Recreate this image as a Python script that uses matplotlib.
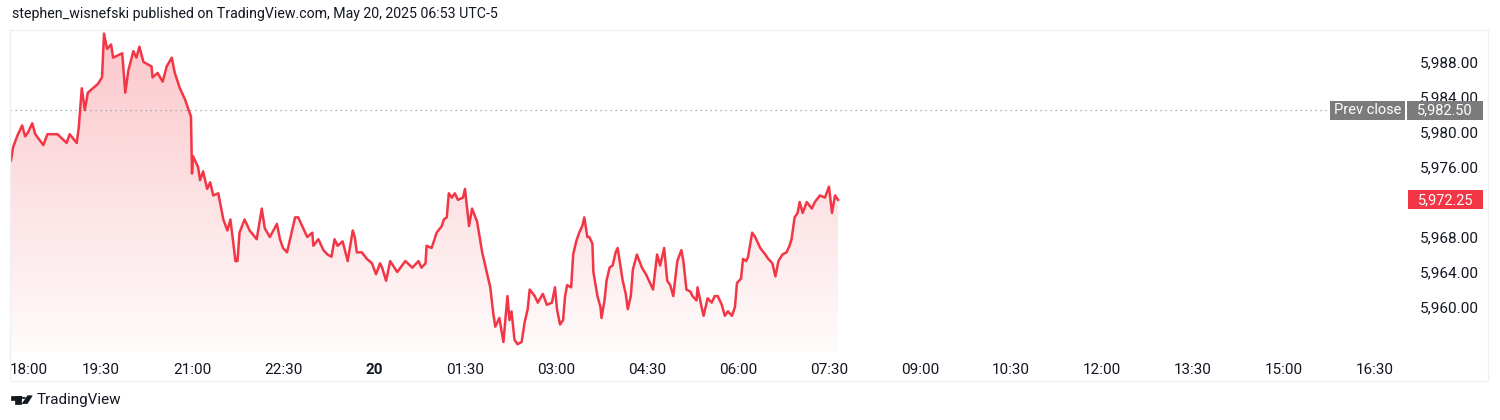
import numpy as np
import matplotlib
matplotlib.use('Agg')
import matplotlib.pyplot as plt
from matplotlib.patches import Rectangle, Polygon, Circle
from matplotlib.transforms import blended_transform_factory

plt.rcParams['font.family'] = ['Roboto', 'DejaVu Sans']

# minutes after 18:00 (May 19) and last price
minutes = [1, 3, 7, 12, 15, 18, 22, 25, 33, 37, 47, 56, 59, 66, 68, 71, 74, 77, 82, 87,
           91, 93, 96, 100, 102, 111, 114, 117, 122, 125, 128, 132, 140, 141, 146, 151, 155, 160, 163, 168,
           173, 176, 179, 180, 181, 186, 188, 191, 195, 198, 201, 206, 211, 215, 218, 223, 225, 227, 232, 237,
           244, 249, 252, 257, 264, 267, 270, 274, 279, 282, 285, 289, 294, 299, 300, 305, 310, 314, 318, 321,
           324, 329, 334, 339, 341, 343, 348, 353, 358, 362, 366, 368, 372, 376, 383, 391, 398, 404, 407, 411,
           412, 417, 422, 427, 429, 432, 434, 437, 440, 443, 448, 450, 454, 457, 462, 467, 470, 475, 478, 480,
           484, 488, 492, 494, 496, 499, 502, 506, 509, 512, 514, 519, 522, 527, 531, 536, 539, 541, 544, 547,
           549, 551, 555, 557, 560, 563, 566, 568, 571, 573, 576, 577, 581, 584, 585, 588, 590, 593, 596, 599,
           601, 603, 606, 609, 611, 614, 616, 620, 625, 629, 633, 636, 640, 643, 647, 650, 653, 656, 660, 664,
           666, 669, 673, 675, 679, 680, 684, 686, 690, 694, 697, 700, 704, 707, 710, 714, 717, 719, 723, 725,
           728, 730, 734, 737, 742, 747, 750, 754, 757, 760, 764, 768, 771, 773, 776, 779, 781, 784, 788, 793,
           796, 801, 806, 810, 813, 816, 819]
prices = [5976.75, 5978.25, 5979.5, 5980.75, 5979.5, 5980, 5981, 5979.75, 5978.5, 5979.75, 5979.75, 5978.75, 5979.75, 5978.75, 5980.5, 5985, 5982.5, 5984.5, 5985, 5985.5,
          5986.25, 5991.25, 5989.5, 5990, 5988.5, 5989, 5984.5, 5987, 5989.25, 5988.5, 5989.75, 5988, 5987.5, 5986.25, 5986.75, 5985.75, 5987.5, 5988.5, 5986.75, 5985,
          5983.75, 5982.75, 5981.75, 5975.25, 5977.25, 5976, 5974.5, 5975.5, 5973.5, 5974.25, 5972.75, 5973, 5970, 5968.75, 5970, 5965.25, 5965.25, 5968.5, 5970, 5968.75,
          5967.75, 5971.25, 5969, 5968, 5969.5, 5967.75, 5966.75, 5966.25, 5968.75, 5970.25, 5970.25, 5969.25, 5968, 5968.5, 5967, 5967.75, 5966.5, 5966, 5965.75, 5967.75,
          5967, 5967.5, 5965.25, 5968.75, 5968, 5966.25, 5966.25, 5965.5, 5965, 5963.75, 5965, 5964.5, 5963, 5965.25, 5964, 5965.25, 5964.5, 5965.25, 5964.5, 5965,
          5967, 5966.75, 5968.5, 5969.25, 5970, 5970.25, 5973, 5972.5, 5973, 5972.25, 5972.5, 5973.5, 5969.25, 5971.25, 5969.75, 5966.25, 5964.75, 5962.25, 5959.25, 5957.75,
          5958.75, 5956, 5961.25, 5958.5, 5959.5, 5956.25, 5955.75, 5956, 5958.25, 5959.75, 5962, 5961.25, 5960.5, 5961.5, 5960.25, 5960.5, 5962.25, 5959.75, 5958, 5958.5,
          5961.25, 5962.5, 5962.25, 5966, 5967.5, 5968.5, 5969.25, 5970.25, 5968, 5968, 5967.25, 5964, 5961.25, 5960, 5958.75, 5960.75, 5963, 5964.5, 5964.75, 5966.25,
          5966.75, 5965.25, 5963, 5961.5, 5959.75, 5961.25, 5964.25, 5966, 5964.5, 5963.75, 5962.75, 5962, 5966, 5964.75, 5966.75, 5963, 5962.5, 5961.25, 5965.25, 5966.5,
          5965.25, 5962, 5961.75, 5961.25, 5960.75, 5962.25, 5960, 5959, 5961, 5960.5, 5961.25, 5961.25, 5960.25, 5959, 5959.5, 5959, 5960, 5962.75, 5963.25, 5965.5,
          5965.25, 5965.75, 5968.5, 5968, 5966.75, 5966, 5965.5, 5965, 5963.5, 5965.25, 5966, 5966.25, 5967, 5967.75, 5970.25, 5970.75, 5972, 5970.75, 5972, 5971.25,
          5972, 5972.75, 5972.5, 5973.75, 5970.75, 5972.75, 5972.25]

prev_close = 5982.5
last_price = 5972.25

tick_minutes = [0, 90, 180, 270, 360, 450, 540, 630, 720, 810, 900, 990, 1080, 1170, 1260, 1350]
tick_labels = ['18:00', '19:30', '21:00', '22:30', '20', '01:30', '03:00', '04:30',
               '06:00', '07:30', '09:00', '10:30', '12:00', '13:30', '15:00', '16:30']
price_ticks = [5960, 5964, 5968, 5976, 5980, 5984, 5988]

red = '#F23645'
ink = '#131722'
W, H = 1500, 420

fig = plt.figure(figsize=(15, 4.2), dpi=100)
fig.patch.set_facecolor('white')

def fx(x):
    return x / W

def fy(y):
    return 1 - y / H

# outer frame
fig.patches.append(Rectangle((fx(10), fy(381)), fx(1488) - fx(10), fy(30) - fy(381),
                             transform=fig.transFigure, fill=False, ec='#EEF0F4', lw=1))

ax = fig.add_axes([fx(10), fy(352), fx(1405) - fx(10), fy(30) - fy(352)])
ymin, ymax = 5954.86, 5991.66
for s in ax.spines.values():
    s.set_visible(False)

# area with vertical gradient
poly = ax.fill_between(minutes, prices, ymin, color='none', lw=0)
n = 256
img = np.zeros((n, 1, 4))
img[:, 0, 0] = 242 / 255
img[:, 0, 1] = 54 / 255
img[:, 0, 2] = 69 / 255
img[:, 0, 3] = np.linspace(0.28, 0.02, n)
im = ax.imshow(img, extent=[minutes[0], minutes[-1], ymin, max(prices)],
               aspect='auto', origin='upper', zorder=1)
im.set_clip_path(poly.get_paths()[0], transform=ax.transData)
ax.set_xlim(0, 1379.7)
ax.set_ylim(ymin, ymax)

ax.plot(minutes, prices, color=red, lw=1.8, zorder=3, solid_joinstyle='round')

# prev close dotted line
ax.axhline(prev_close, xmax=(1330 - 10) / (1405 - 10), color='#9598A1', lw=0.9,
           linestyle=(0, (1, 3)), zorder=2)

# x ticks
ax.set_xticks(tick_minutes)
ax.set_xticklabels(tick_labels)
ax.tick_params(axis='x', length=0, pad=8, labelsize=11, colors=ink)
for lab in ax.get_xticklabels():
    if lab.get_text() == '20':
        lab.set_fontweight('bold')
    if lab.get_text() == '18:00':
        lab.set_horizontalalignment('left')

# y ticks on the right
ax.yaxis.tick_right()
ax.set_yticks(price_ticks)
ax.set_yticklabels([f'{v:,.2f}' for v in price_ticks])
ax.tick_params(axis='y', length=0, pad=11, labelsize=11, colors=ink)

# price labels
tr = blended_transform_factory(fig.transFigure, ax.transData)
bh = 19 / 8.75

def price_box(x0, x1, val, text, fc):
    ax.add_patch(Rectangle((fx(x0), val - bh / 2), fx(x1) - fx(x0), bh, transform=tr,
                           fc=fc, ec='none', clip_on=False, zorder=5))
    ax.text((fx(x0) + fx(x1)) / 2, val, text, transform=tr, ha='center', va='center',
            color='white', fontsize=10.5, zorder=6, clip_on=False)

price_box(1330, 1405, prev_close, 'Prev close', '#7B7B7B')
price_box(1407, 1483, prev_close, f'{prev_close:,.2f}', '#7B7B7B')
price_box(1408, 1483, last_price, f'{last_price:,.2f}', red)

# header
fig.text(fx(12), fy(14), 'stephen_wisnefski published on TradingView.com, May 20, 2025 06:53 UTC-5',
         ha='left', va='center', fontsize=10.2, color=ink)

# footer logo
ft = fig.transFigure
fig.patches.append(Rectangle((fx(11), fy(399.8)), fx(20.8) - fx(11), fy(395.8) - fy(399.8),
                             transform=ft, fc=ink, ec=ink, lw=0.5))
fig.patches.append(Rectangle((fx(14.8), fy(403.6)), fx(20.8) - fx(14.8), fy(395.8) - fy(403.6),
                             transform=ft, fc=ink, ec=ink, lw=0.5))
fig.patches.append(Circle((fx(23.2), fy(397.8)), 2.1 / W, transform=ft, fc=ink, ec=ink, lw=0.5))
fig.patches.append(Polygon([(fx(22.2), fy(403.6)), (fx(27.2), fy(403.6)), (fx(32.2), fy(395.8)), (fx(27.6), fy(395.8))],
                           closed=True, transform=ft, fc=ink, ec=ink, lw=0.5))
fig.text(fx(36.5), fy(400), 'TradingView', ha='left', va='center', fontsize=11, color=ink)

fig.savefig('out.png', dpi=100, facecolor='white')
